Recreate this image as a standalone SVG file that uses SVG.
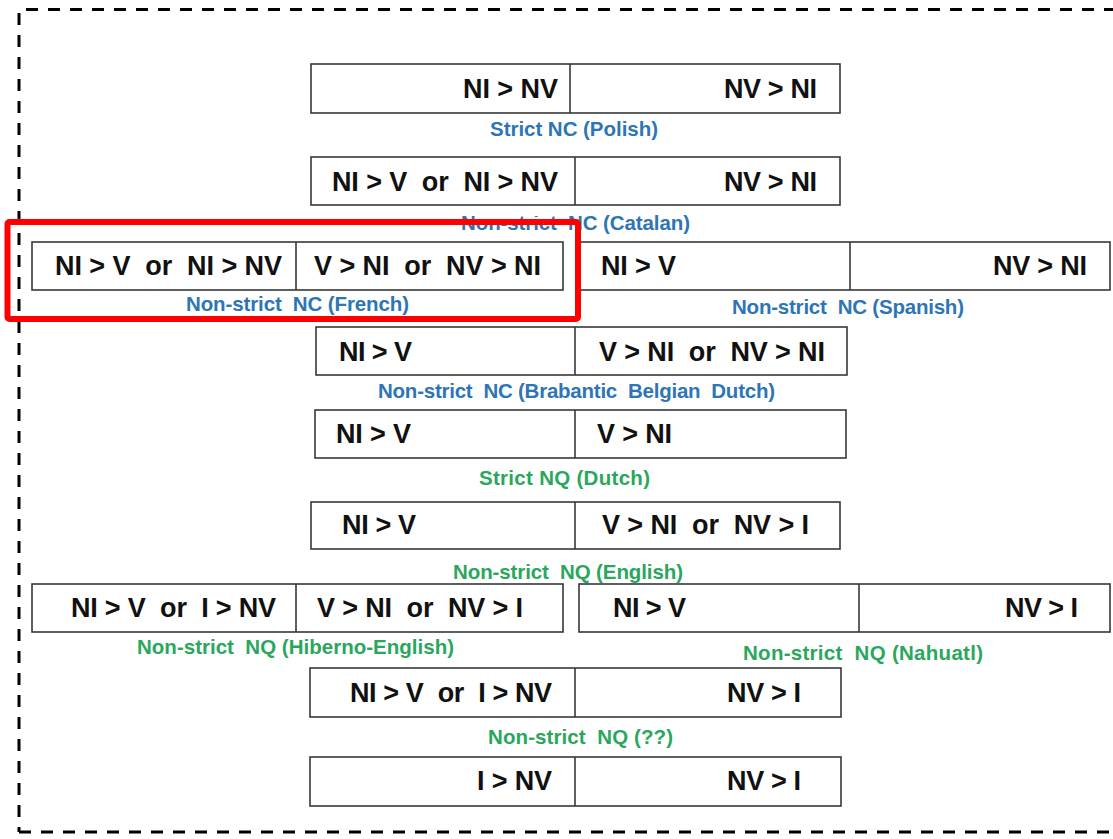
<svg xmlns="http://www.w3.org/2000/svg" width="1113" height="839" viewBox="0 0 1113 839">
  <style>
    .box { fill: #ffffff; stroke: #383838; stroke-width: 1.6; }
    .div { stroke: #383838; stroke-width: 1.6; }
    .rule { font-family: "Liberation Sans", Arial, sans-serif; font-weight: bold; font-size: 27px; fill: #111111; white-space: pre; }
    .lab { font-family: "Liberation Sans", Arial, sans-serif; font-weight: bold; font-size: 20.5px; white-space: pre; }
    .nc { fill: #2e75b6; }
    .nq { fill: #2aa75c; }
    .frame { fill: none; stroke: #000000; stroke-width: 3; stroke-dasharray: 12 10; }
    .mark { fill: none; stroke: #ff0000; stroke-width: 6; }
  </style>
  <defs>
    <clipPath id="catalanClip">
      <path d="M440 216 H572 V200 H720 V245 H440 Z"/>
    </clipPath>
  </defs>
  <rect width="1113" height="839" fill="#ffffff"/>

  <!-- dashed outer frame -->
  <g id="frame">
    <line class="frame" x1="26" y1="9.5" x2="1113" y2="9.5"/>
    <line class="frame" x1="19" y1="13" x2="19" y2="832"/>
    <line class="frame" x1="19" y1="832" x2="1113" y2="832"/>
  </g>

  <!-- Strict NC (Polish) -->
  <g id="polish">
    <rect class="box" x="311" y="64" width="529" height="49"/>
    <line class="div" x1="570" y1="64" x2="570" y2="113"/>
    <text class="rule" x="463" y="98" textLength="95">NI &gt; NV</text>
    <text class="rule" x="724" y="98" textLength="93">NV &gt; NI</text>
    <text class="lab nc" x="490" y="136" textLength="168">Strict NC (Polish)</text>
  </g>

  <!-- Non-strict NC (Catalan) -->
  <g id="catalan">
    <rect class="box" x="311" y="157" width="529" height="48"/>
    <line class="div" x1="575" y1="157" x2="575" y2="205"/>
    <text class="rule" x="332" y="191" textLength="226">NI &gt; V  or  NI &gt; NV</text>
    <text class="rule" x="724" y="191" textLength="93">NV &gt; NI</text>
    <text class="lab nc" x="461" y="230" textLength="229" clip-path="url(#catalanClip)">Non-strict  NC (Catalan)</text>
  </g>

  <!-- Non-strict NC (French) -->
  <g id="french">
    <rect class="box" x="32" y="242" width="531" height="48"/>
    <line class="div" x1="296" y1="242" x2="296" y2="290"/>
    <text class="rule" x="55" y="275" textLength="227">NI &gt; V  or  NI &gt; NV</text>
    <text class="rule" x="314" y="275" textLength="227">V &gt; NI  or  NV &gt; NI</text>
    <text class="lab nc" x="186" y="311" textLength="223">Non-strict  NC (French)</text>
  </g>

  <!-- Non-strict NC (Spanish) -->
  <g id="spanish">
    <rect class="box" x="579" y="242" width="531" height="48"/>
    <line class="div" x1="850" y1="242" x2="850" y2="290"/>
    <text class="rule" x="601" y="275" textLength="75">NI &gt; V</text>
    <text class="rule" x="993" y="275" textLength="94">NV &gt; NI</text>
    <text class="lab nc" x="732" y="314" textLength="232">Non-strict  NC (Spanish)</text>
  </g>

  <!-- Non-strict NC (Brabantic Belgian Dutch) -->
  <g id="brabantic">
    <rect class="box" x="316" y="327" width="531" height="48"/>
    <line class="div" x1="575" y1="327" x2="575" y2="375"/>
    <text class="rule" x="339" y="361" textLength="73">NI &gt; V</text>
    <text class="rule" x="599" y="361" textLength="226">V &gt; NI  or  NV &gt; NI</text>
    <text class="lab nc" x="378" y="398" textLength="397">Non-strict  NC (Brabantic  Belgian  Dutch)</text>
  </g>

  <!-- Strict NQ (Dutch) -->
  <g id="dutch">
    <rect class="box" x="315" y="410" width="531" height="48"/>
    <line class="div" x1="575" y1="410" x2="575" y2="458"/>
    <text class="rule" x="336" y="443" textLength="75">NI &gt; V</text>
    <text class="rule" x="597" y="443" textLength="75">V &gt; NI</text>
    <text class="lab nq" x="479" y="485" textLength="171">Strict NQ (Dutch)</text>
  </g>

  <!-- Non-strict NQ (English) -->
  <g id="english">
    <rect class="box" x="311" y="502" width="529" height="47"/>
    <line class="div" x1="575" y1="502" x2="575" y2="549"/>
    <text class="rule" x="342" y="534" textLength="74">NI &gt; V</text>
    <text class="rule" x="602" y="534" textLength="207">V &gt; NI  or  NV &gt; I</text>
    <text class="lab nq" x="453" y="579" textLength="230">Non-strict  NQ (English)</text>
  </g>

  <!-- Non-strict NQ (Hiberno-English) -->
  <g id="hiberno">
    <rect class="box" x="32" y="584" width="531" height="48"/>
    <line class="div" x1="296" y1="584" x2="296" y2="632"/>
    <text class="rule" x="71" y="617" textLength="205">NI &gt; V  or  I &gt; NV</text>
    <text class="rule" x="317" y="617" textLength="206">V &gt; NI  or  NV &gt; I</text>
    <text class="lab nq" x="137" y="654" textLength="317">Non-strict  NQ (Hiberno-English)</text>
  </g>

  <!-- Non-strict NQ (Nahuatl) -->
  <g id="nahuatl">
    <rect class="box" x="579" y="584" width="531" height="48"/>
    <line class="div" x1="859" y1="584" x2="859" y2="632"/>
    <text class="rule" x="613" y="617" textLength="73">NI &gt; V</text>
    <text class="rule" x="1005" y="617" textLength="73">NV &gt; I</text>
    <text class="lab nq" x="743" y="660" textLength="240">Non-strict  NQ (Nahuatl)</text>
  </g>

  <!-- Non-strict NQ (??) -->
  <g id="unknown">
    <rect class="box" x="310" y="668" width="531" height="49"/>
    <line class="div" x1="575" y1="668" x2="575" y2="717"/>
    <text class="rule" x="350" y="702" textLength="202">NI &gt; V  or  I &gt; NV</text>
    <text class="rule" x="727" y="702" textLength="74">NV &gt; I</text>
    <text class="lab nq" x="488" y="744" textLength="185">Non-strict  NQ (??)</text>
  </g>

  <!-- bottom row -->
  <g id="bottom">
    <rect class="box" x="310" y="757" width="531" height="49"/>
    <line class="div" x1="575" y1="757" x2="575" y2="806"/>
    <text class="rule" x="477" y="790" textLength="75">I &gt; NV</text>
    <text class="rule" x="727" y="790" textLength="74">NV &gt; I</text>
  </g>

  <!-- red highlight round the French row -->
  <g id="highlight">
    <rect class="mark" x="7.5" y="222" width="570.5" height="97" rx="2"/>
  </g>
</svg>
